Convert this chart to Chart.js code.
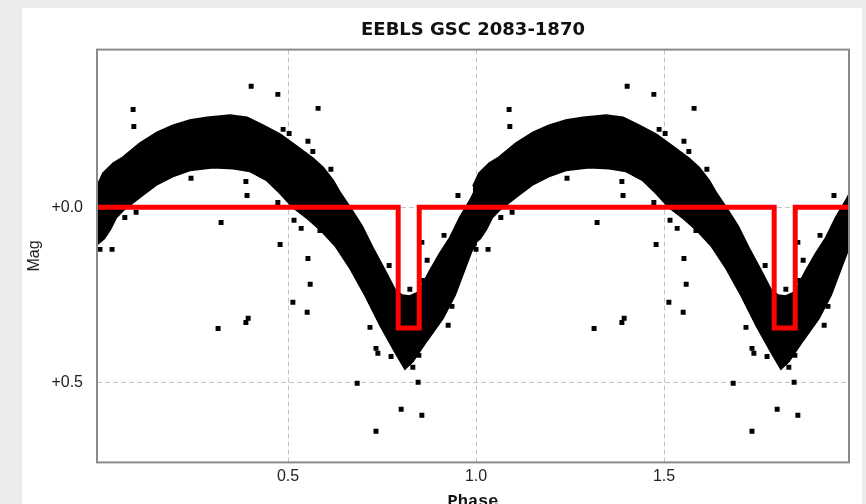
<!DOCTYPE html>
<html>
<head>
<meta charset="utf-8">
<title>EEBLS GSC 2083-1870</title>
<script src="https://cdn.jsdelivr.net/npm/chart.js"></script>
<style>
	html, body { margin: 0; padding: 0; background: #ececec; overflow: hidden; width: 866px; height: 504px; }
	#painel { position: absolute; left: 22px; top: 8px; width: 840px; height: 496px; background: #fff; overflow: hidden; }
	#grafico { display: block; }
</style>
</head>
<body>
<div id="painel"><canvas id="grafico" width="840" height="508"></canvas></div>
<script>
	// faixa densa de pontos: borda superior e inferior de um ciclo (fase, mag)
	const upperPhase = [-0.008, 0.008, 0.035, 0.061, 0.106, 0.152, 0.194, 0.239, 0.285, 0.346, 0.391, 0.434, 0.479, 0.524, 0.566, 0.593, 0.620, 0.638, 0.665, 0.697, 0.726, 0.758, 0.785, 0.803, 0.824, 0.846, 0.878, 0.904, 0.931, 0.957, 0.984, 1.000];
	const upperMag = [-0.060, -0.097, -0.126, -0.143, -0.183, -0.214, -0.234, -0.249, -0.257, -0.263, -0.257, -0.234, -0.209, -0.174, -0.140, -0.114, -0.077, -0.043, 0.000, 0.054, 0.117, 0.180, 0.237, 0.251, 0.254, 0.243, 0.180, 0.131, 0.086, 0.029, -0.020, -0.054];
	const lowerPhase = [-0.008, 0.011, 0.027, 0.043, 0.061, 0.106, 0.152, 0.194, 0.239, 0.301, 0.354, 0.399, 0.444, 0.479, 0.513, 0.551, 0.585, 0.625, 0.665, 0.705, 0.745, 0.785, 0.811, 0.832, 0.870, 0.912, 0.944, 0.971, 0.989, 1.000];
	const lowerMag = [0.106, 0.089, 0.063, 0.029, 0.009, -0.029, -0.066, -0.089, -0.106, -0.114, -0.111, -0.103, -0.077, -0.040, 0.000, 0.031, 0.063, 0.109, 0.174, 0.251, 0.337, 0.414, 0.462, 0.440, 0.380, 0.317, 0.251, 0.174, 0.123, 0.106];

	// pontos soltos fora da faixa (um ciclo)
	const outPhase = [0.402, 0.473, 0.580, 0.088, 0.090, 0.487, 0.503, 0.553, 0.566, 0.614, 0.242, 0.388, 0.391, 0.322, 0.066, 0.096, 0.032, 0.000, 0.479, 0.553, 0.516, 0.535, 0.473, 0.559, 0.513, 0.551, 0.684, 0.846, 0.801, 0.856, 0.734, 0.952, 0.870, 0.915, 0.936, 0.926, 0.769, 0.824, 0.718, 0.734, 0.739, 0.774, 0.832, 0.848, 0.314, 0.394, 0.388, 0.856, 0.859, 0.585];
	const outMag = [-0.346, -0.323, -0.283, -0.280, -0.231, -0.223, -0.211, -0.189, -0.160, -0.109, -0.083, -0.074, -0.034, 0.043, 0.029, 0.014, 0.120, 0.120, 0.106, 0.146, 0.037, 0.060, -0.014, 0.220, 0.271, 0.300, 0.503, 0.500, 0.577, 0.594, 0.640, -0.034, 0.151, 0.080, 0.283, 0.337, 0.166, 0.234, 0.343, 0.403, 0.417, 0.426, 0.457, 0.423, 0.346, 0.317, 0.329, 0.100, 0.209, 0.066];

	// modelo EEBLS (linha vermelha)
	const boxPhase = [-0.01, 0.793, 0.793, 0.849, 0.849, 1.793, 1.793, 1.849, 1.849, 2.0];
	const boxMag = [0, 0, 0.345, 0.345, 0, 0, 0.345, 0.345, 0, 0];

	const xTicks = [0.5, 1.0, 1.5];
	const yTicks = [0.0, 0.5];
	const cycles = [0, 1];

	// o grafico repete a mesma curva em duas fases
	const bandSets = cycles.map(function (k) {
		const pts = [];
		for (let i = 0; i < upperPhase.length; i++) pts.push({ x: upperPhase[i] + k, y: upperMag[i] });
		for (let i = lowerPhase.length - 1; i >= 0; i--) pts.push({ x: lowerPhase[i] + k, y: lowerMag[i] });
		return {
			data: pts,
			showLine: true,
			fill: 'shape',
			backgroundColor: '#000',
			borderColor: '#000',
			borderWidth: 2,
			pointRadius: 0,
			tension: 0,
			clip: 0,
			order: 3
		};
	});

	const soltos = [];
	cycles.forEach(function (k) {
		for (let i = 0; i < outPhase.length; i++) soltos.push({ x: outPhase[i] + k, y: outMag[i] });
	});

	const modelo = boxPhase.map(function (p, i) { return { x: p, y: boxMag[i] }; });

	const quadro = {
		id: 'quadro',
		afterDraw(chart) {
			const a = chart.chartArea;
			const ctx = chart.ctx;
			ctx.save();
			ctx.strokeStyle = '#8a8a8a';
			ctx.lineWidth = 2;
			ctx.strokeRect(a.left, a.top, a.right - a.left, a.bottom - a.top);
			ctx.restore();
		}
	};

	new Chart(document.getElementById('grafico'), {
		type: 'scatter',
		data: {
			datasets: bandSets.concat([
				{
					data: soltos,
					backgroundColor: '#000',
					borderWidth: 0,
					pointStyle: 'rect',
					pointRadius: 3.5,
					clip: 0,
					order: 2
				},
				{
					data: modelo,
					showLine: true,
					fill: false,
					borderColor: '#ff0000',
					borderWidth: 5,
					borderJoinStyle: 'miter',
					pointRadius: 0,
					tension: 0,
					clip: 0,
					order: 1
				}
			])
		},
		options: {
			responsive: false,
			animation: false,
			layout: { padding: { left: 0, right: 13, top: 0, bottom: 0 } },
			plugins: {
				legend: { display: false },
				tooltip: { enabled: false },
				title: {
					display: true,
					text: 'EEBLS GSC 2083-1870',
					fullSize: false,
					color: '#111',
					font: { family: 'DejaVu Sans', size: 18, weight: 'bold' },
					padding: { top: 12, bottom: 8 }
				}
			},
			scales: {
				x: {
					type: 'linear',
					min: -0.008,
					max: 1.992,
					afterBuildTicks: function (s) { s.ticks = xTicks.map(function (v) { return { value: v }; }); },
					ticks: {
						callback: function (v) { return Number(v).toFixed(1); },
						font: { family: 'Liberation Sans', size: 16 },
						color: '#222',
						padding: 5,
						maxRotation: 0,
						autoSkip: false
					},
					grid: { color: '#c4c4c4', drawTicks: false },
					border: { display: false, dash: [5, 3] },
					title: {
						display: true,
						text: 'Phase',
						color: '#111',
						font: { family: 'Liberation Mono', size: 17, weight: 'bold' },
						padding: { top: 0, bottom: 4 }
					}
				},
				y: {
					type: 'linear',
					reverse: true,
					min: -0.451,
					max: 0.729,
					afterBuildTicks: function (s) { s.ticks = yTicks.map(function (v) { return { value: v }; }); },
					afterFit: function (s) { s.width = 75; },
					ticks: {
						callback: function (v) { return (v >= 0 ? '+' : '') + Number(v).toFixed(1); },
						font: { family: 'Liberation Sans', size: 16 },
						color: '#222',
						padding: 14
					},
					grid: { color: '#c4c4c4', drawTicks: false },
					border: { display: false, dash: [5, 3] },
					title: {
						display: true,
						text: 'Mag',
						color: '#222',
						font: { family: 'Liberation Sans', size: 16 },
						padding: { top: 3, bottom: 0 }
					}
				}
			}
		},
		plugins: [quadro]
	});
</script>
</body>
</html>
